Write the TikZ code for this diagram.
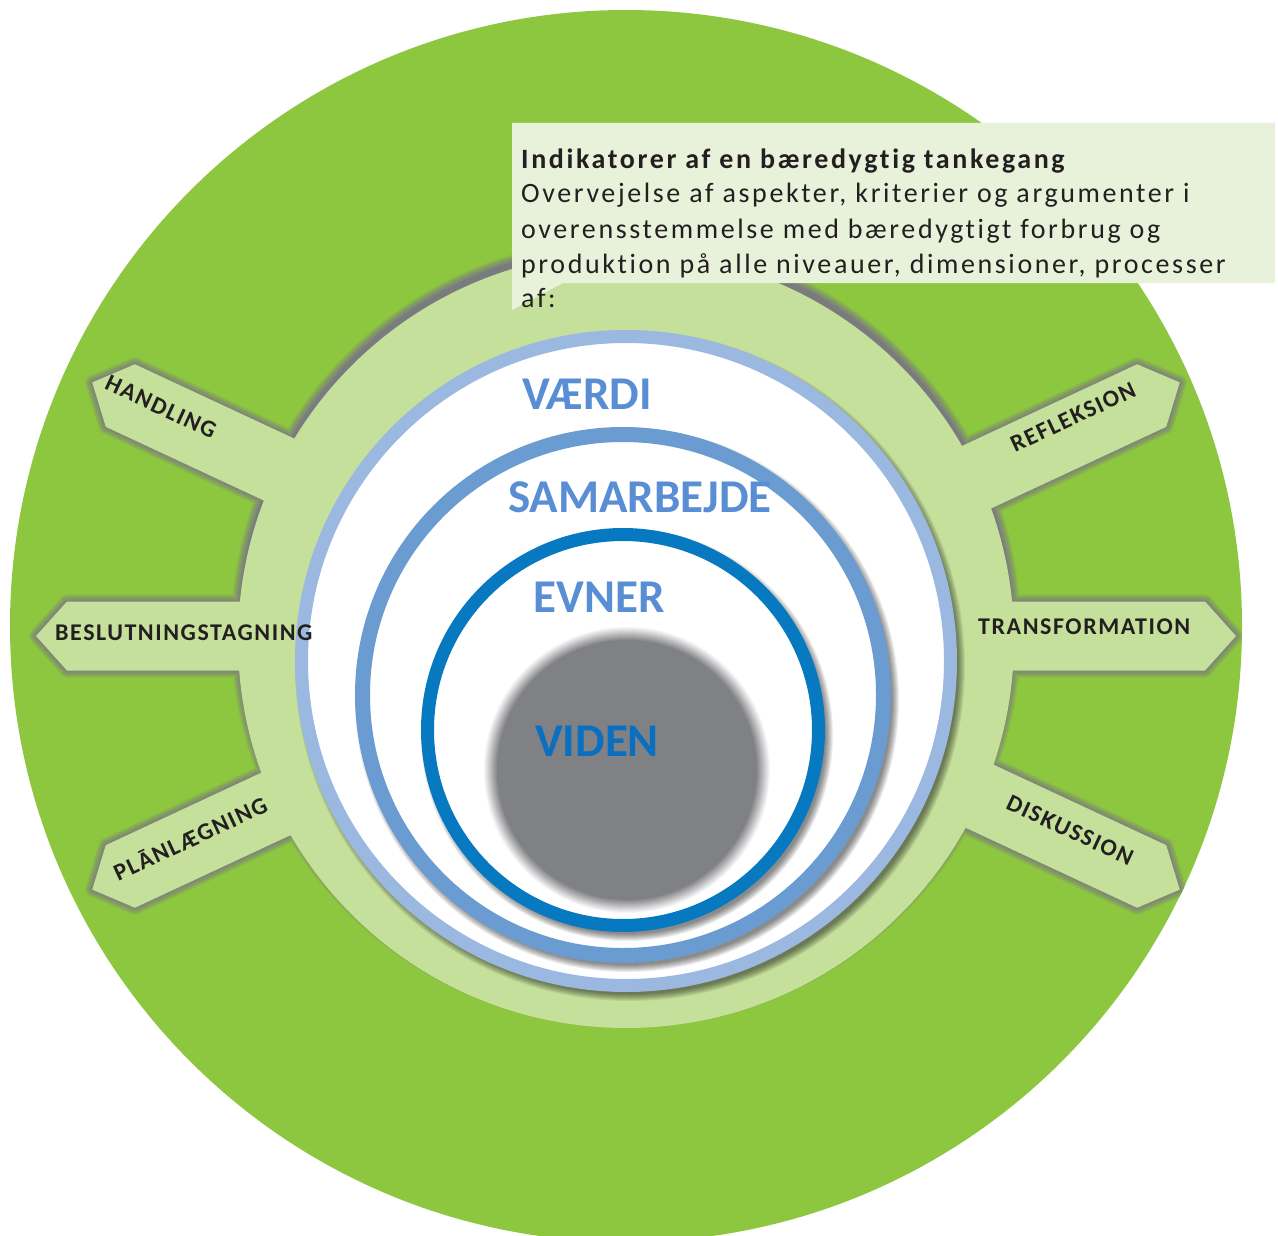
\documentclass[tikz,border=0pt]{standalone}
\usepackage{fontspec}
\setmainfont{Carlito}
\newfontfamily\boxfont[LetterSpace=9.3,Ligatures={NoCommon}]{Carlito}
\newfontfamily\spokefont[LetterSpace=6.5]{Carlito}
\newfontfamily\ringfont{Carlito}
\usetikzlibrary{calc}
\definecolor{dgreen}{HTML}{8DC63F}
\definecolor{lgreen}{HTML}{C5E09B}
\definecolor{boxfill}{HTML}{E8F2DB}
\definecolor{ringA}{HTML}{9BB8E0}
\definecolor{ringB}{HTML}{6A9BD1}
\definecolor{ringC}{HTML}{0779C1}
\definecolor{diskgray}{HTML}{808185}
\definecolor{lbltext}{HTML}{5A8ED4}
\definecolor{vidtext}{HTML}{0B6FC0}
\definecolor{darktext}{HTML}{231F20}
\definecolor{shadowgray}{HTML}{7A7B7E}
\newcommand{\lgdisk}{(626,640) circle[radius=388]}
\newcommand{\lgspokes}{
  \foreach \a in {0,25,155,180,205,335} {
    ($(C)+({\a+90}:34.5)$) -- ($(C)+(\a:569)+({\a+90}:34.5)$) -- ($(C)+(\a:600)$)
    -- ($(C)+(\a:569)+({\a-90}:34.5)$) -- ($(C)+({\a-90}:34.5)$) -- cycle}}
\newcommand{\ringshadow}[2]{%
  \foreach \i in {0,...,7} {\fill[black, opacity=0.07] ($(#1)+(4,5)$) circle[radius=#2-3+\i];}}
\begin{document}
\begin{tikzpicture}[x=1pt,y=-1pt,
  spokelbl/.style={font=\spokefont\bfseries\fontsize{24}{24}\selectfont, text=darktext, inner sep=0pt},
  ringlbl/.style={font=\ringfont\bfseries\fontsize{47}{47}\selectfont, text=lbltext, inner sep=0pt, anchor=base},
  boxline/.style={font=\boxfont\fontsize{28}{35}\selectfont, text=darktext, inner sep=0pt, anchor=base west},
  boxtitle/.style={font=\boxfont\bfseries\fontsize{28}{35}\selectfont, text=darktext, inner sep=0pt, anchor=base west},
]
\useasboundingbox (0,0) rectangle (1278,1236);
\coordinate (C) at (636,636);
\coordinate (G) at (626,626);

% outer green disk
\fill[dgreen] (G) circle[radius=616];

% soft shadow along the upper edges of the light green shape
\begin{scope}
  \clip (G) circle[radius=616];
  \begin{scope}[yshift=7pt]
    \foreach \w/\c in {14/20, 11/40, 8/60, 4/80} {
      \draw[shadowgray!\c!dgreen, line width=\w pt, line join=round] \lgdisk;
      \draw[shadowgray!\c!dgreen, line width=\w pt, line join=round] \lgspokes;
    }
    \fill[shadowgray] \lgdisk;
    \fill[shadowgray] \lgspokes;
  \end{scope}
\end{scope}

% light green ring with spokes
\fill[lgreen] \lgdisk;
\fill[lgreen] \lgspokes;

% rings
\coordinate (RA) at (626,661);
\coordinate (RB) at (623,695);
\coordinate (RC) at (623,730);
\coordinate (RD) at (627,770);
\ringshadow{RA}{331}
\draw[ringA, line width=13pt, fill=white] (RA) circle[radius=324.5];
\ringshadow{RB}{268}
\draw[ringB, line width=15pt, fill=white] (RB) circle[radius=260.5];
\ringshadow{RC}{202}
\draw[ringC, line width=13pt, fill=white] (RC) circle[radius=195.5];

% blurred gray core
\foreach \i in {0,...,14} {
  \pgfmathtruncatemacro\p{\i*100/14}
  \fill[diskgray!\p!white] (RD) circle[radius=144-\i];
}

% ring labels
\node[ringlbl] (v1) at (587,409) {VÆRDI};
\node[ringlbl] (v2) at (640,512) {SAMARBEJDE};
\node[ringlbl] (v3) at (599,612) {EVNER};
\node[ringlbl, text=vidtext] (v4) at (597,756) {VIDEN};

% spoke labels
\node[spokelbl, anchor=base west] (tr) at (978,634.5) {TRANSFORMATION};
\node[spokelbl, anchor=base west] (be) at (55,640) {BESLUTNINGSTAGNING};
\node[spokelbl, rotate=-25] (ha) at (161,407) {HANDLING};
\node[spokelbl, rotate=25] (re) at (1073,417) {REFLEKSION};
\node[spokelbl, rotate=-25] (di) at (1070,830) {DISKUSSION};
\node[spokelbl, rotate=25] (pl) at (190,838) {PLĀNLÆGNING};

% text box
\fill[boxfill] (512,123) -- (1275,123) -- (1275,283) -- (563,283) -- (512,310) -- cycle;
\node[boxtitle] (t1) at (521,168) {Indikatorer af en bæredygtig tankegang};
\node[boxline] (t2) at (521,203) {Overvejelse af aspekter, kriterier og argumenter i};
\node[boxline] (t3) at (521,238) {overensstemmelse med bæredygtigt forbrug og};
\node[boxline] (t4) at (521,273) {produktion på alle niveauer, dimensioner, processer};
\node[boxline] (t5) at (521,307) {af:};
\end{tikzpicture}
\end{document}
